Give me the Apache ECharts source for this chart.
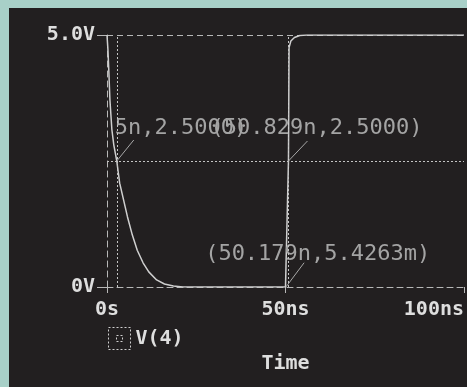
<!DOCTYPE html>
<html>
<head>
<meta charset="utf-8">
<script src="https://cdn.jsdelivr.net/npm/echarts@6/dist/echarts.min.js"></script>
<style>
html,body{margin:0;padding:0;background:#a8d0c8;width:467px;height:387px;overflow:hidden;}
#panel{position:absolute;left:9px;top:8px;width:458px;height:379px;background:#221f20;}
#chart{width:458px;height:379px;}
</style>
</head>
<body>
<div id="panel"><div id="chart"></div></div>
<script>
// Waveform V(4): time in ns, voltage in V
const timeNs  = [0, 0.27, 0.55, 0.82, 1.37, 1.9, 2.7365, 3.55, 4.64, 5.74, 7.1, 8.47, 10.1, 11.7, 13.9, 16.1, 18.6, 21.3, 50.0, 50.179, 50.829, 51.0, 51.5, 52.5, 54.0, 56.0, 100];
const voltage = [5.0, 4.70, 4.21, 3.71, 3.12, 2.82, 2.5, 2.06, 1.73, 1.39, 1.03, 0.73, 0.48, 0.30, 0.14, 0.06, 0.02, 0.0, 0.0, 0.0054263, 2.5, 4.75, 4.88, 4.95, 4.99, 5.0, 5.0];

// tick labels
const xTickLabels = {0: '0s', 50: '50ns', 100: '100ns'};
const yTickLabels = {0: '0V', 5: '5.0V'};

// cursors
const cursorTimes = [2.7365, 50.829];
const cursorLevel = 2.5;

// cursor annotations
const annTimes = [2.7365, 50.829, 50.179];
const annValues = [2.5, 2.5, 0.0054263];
const annTexts = ['5n,2.5000)', '(50.829n,2.5000)', '(50.179n,5.4263m)'];

const seriesName = 'V(4)';
const axisName = 'Time';

const chart = echarts.init(document.getElementById('chart'));
const boldFont = 'DejaVu Sans Mono';
const axisCol = '#b8b8b8';
const textCol = '#dedede';

// pixel placement of annotation texts and leader lines (relative to point)
const annLayout = [
  {tx: -2, ty: -33, lx: 17, ly: -21},
  {tx: -78, ty: -33, lx: 19, ly: -20},
  {tx: -81, ty: -32, lx: 18, ly: -24}
];

const option = {
  animation: false,
  backgroundColor: 'transparent',
  grid: {left: 98, top: 27, bottom: 100, right: -6, containLabel: false},
  legend: {
    left: 94, top: 314,
    data: [seriesName],
    icon: 'path://M0,0H22V22H0Z M8,8H14V14H8Z',
    itemWidth: 22, itemHeight: 22, itemGap: 4,
    itemStyle: {color: 'transparent', borderColor: '#cfcfcf', borderWidth: 1, borderType: [2, 2]},
    textStyle: {color: textCol, fontFamily: boldFont, fontWeight: 'bold', fontSize: 20, padding: [0, 0, 0, 0]}
  },
  xAxis: {
    type: 'value', min: 0, max: 100, interval: 50,
    name: axisName, nameLocation: 'middle', nameGap: 67,
    nameTextStyle: {color: textCol, fontFamily: boldFont, fontWeight: 'bold', fontSize: 20},
    axisLine: {show: true, lineStyle: {color: axisCol, type: [6, 4], width: 1}},
    axisTick: {show: true, length: 6, lineStyle: {color: axisCol}},
    splitLine: {show: false},
    axisLabel: {
      color: textCol, fontFamily: boldFont, fontWeight: 'bold', fontSize: 20, margin: 13,
      alignMaxLabel: 'right',
      formatter: v => xTickLabels[v] !== undefined ? xTickLabels[v] : ''
    }
  },
  yAxis: {
    type: 'value', min: 0, max: 5, interval: 5,
    axisLine: {show: true, lineStyle: {color: axisCol, type: [6, 4], width: 1}},
    axisTick: {show: true, length: 10, lineStyle: {color: axisCol}},
    splitLine: {show: true, lineStyle: {color: axisCol, type: [6, 4], width: 1}},
    axisLabel: {
      color: textCol, fontFamily: boldFont, fontWeight: 'bold', fontSize: 20, margin: 12,
      formatter: v => yTickLabels[v] !== undefined ? yTickLabels[v] : ''
    }
  },
  series: [
    {
      name: seriesName,
      type: 'line',
      data: timeNs.map((t, i) => [t, voltage[i]]),
      showSymbol: false,
      lineStyle: {color: '#cfcfcf', width: 1.5},
      itemStyle: {color: '#cfcfcf'},
      markLine: {
        silent: true,
        symbol: ['none', 'none'],
        label: {show: false},
        lineStyle: {color: '#c4c4c4', type: [2, 2], width: 1},
        data: [
          {xAxis: cursorTimes[0]},
          {xAxis: cursorTimes[1]},
          {yAxis: cursorLevel}
        ]
      },
      z: 3
    },
    {
      type: 'custom',
      silent: true,
      clip: false,
      data: annTimes.map((t, i) => [t, annValues[i], i]),
      renderItem: function (params, api) {
        const i = api.value(2);
        const p = api.coord([api.value(0), api.value(1)]);
        const L = annLayout[i];
        return {
          type: 'group',
          children: [
            {type: 'line', shape: {x1: p[0], y1: p[1], x2: p[0] + L.lx, y2: p[1] + L.ly},
             style: {stroke: '#a8a8a8', lineWidth: 1}},
            {type: 'text', x: p[0] + L.tx, y: p[1] + L.ty,
             style: {text: annTexts[i], fill: '#a4a4a4', font: '22px "DejaVu Sans Mono"',
                     textAlign: 'left', textVerticalAlign: 'middle'}}
          ]
        };
      },
      z: 4
    }
  ]
};
chart.setOption(option);
</script>
</body>
</html>
